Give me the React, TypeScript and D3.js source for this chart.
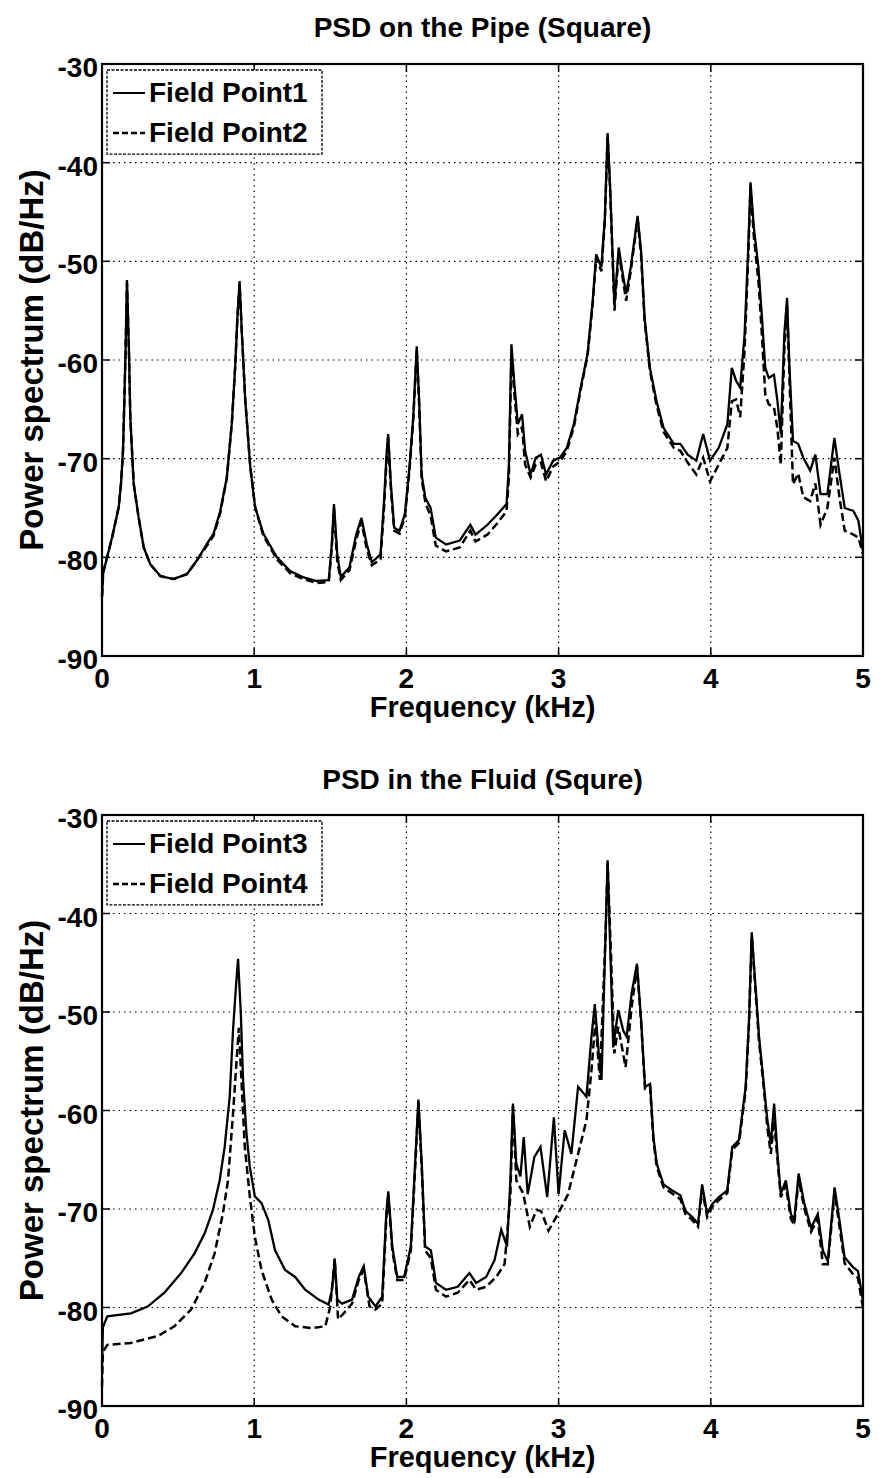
import * as d3 from "d3";

// ---- data: [frequency kHz, power dB/Hz] ----
const xTicks = [0, 1, 2, 3, 4, 5];
const yTicks = [-30, -40, -50, -60, -70, -80, -90];

const pipeTitle = "PSD on the Pipe (Square)";
const fluidTitle = "PSD in the Fluid (Squre)";
const pipeLabels = ["Field Point1", "Field Point2"];
const fluidLabels = ["Field Point3", "Field Point4"];

const fieldPoint1 = [
	[0, -84], [0.008, -81.5], [0.022, -80.7], [0.066, -78], [0.11, -74.9], [0.125, -72.5], [0.138, -69.2], [0.147, -64],
	[0.155, -59], [0.164, -51.9], [0.177, -59], [0.186, -65.8], [0.208, -72.5], [0.24, -75.9], [0.274, -79], [0.317, -80.7],
	[0.383, -81.9], [0.47, -82.2], [0.558, -81.7], [0.624, -80.3], [0.69, -78.6], [0.733, -77.6], [0.777, -75.3], [0.82, -71.9],
	[0.853, -66.4], [0.875, -60.7], [0.89, -55.6], [0.904, -52], [0.919, -57.3], [0.941, -64], [0.974, -70.8], [1.006, -74.9],
	[1.06, -77.6], [1.149, -80], [1.236, -81.4], [1.32, -82], [1.41, -82.4], [1.49, -82.3], [1.51, -78.6], [1.524, -74.6],
	[1.546, -79.7], [1.569, -82], [1.626, -81], [1.67, -77.7], [1.705, -76], [1.74, -78.7], [1.773, -80.5], [1.83, -79.7],
	[1.853, -74.3], [1.871, -69.2], [1.88, -67.5], [1.898, -72.6], [1.92, -77], [1.955, -77.3], [1.99, -75.6], [2.02, -70.9],
	[2.045, -65.8], [2.068, -58.6], [2.084, -64.2], [2.1, -71.6], [2.125, -74], [2.159, -75], [2.193, -78], [2.26, -78.7],
	[2.35, -78.3], [2.42, -76.7], [2.454, -77.7], [2.533, -76.7], [2.6, -75.6], [2.658, -74.6], [2.673, -70.9], [2.69, -58.4],
	[2.71, -62.5], [2.732, -66.5], [2.76, -65.5], [2.78, -69.2], [2.816, -71.6], [2.85, -69.9], [2.884, -69.6], [2.918, -71.6],
	[2.964, -70.2], [3.009, -69.9], [3.054, -68.9], [3.1, -66.5], [3.145, -62.8], [3.19, -59.4], [3.224, -54], [3.247, -49.3],
	[3.281, -50.6], [3.304, -45.6], [3.322, -37], [3.338, -42.2], [3.354, -49], [3.367, -54.4], [3.395, -48.6], [3.422, -51.3],
	[3.444, -53.3], [3.474, -50.6], [3.519, -45.4], [3.542, -49], [3.565, -55.7], [3.6, -60.8], [3.644, -64.2], [3.69, -66.9],
	[3.757, -68.5], [3.8, -68.5], [3.848, -69.6], [3.905, -70.2], [3.95, -67.5], [3.995, -70.2], [4.052, -68.9], [4.109, -66.5],
	[4.138, -60.8], [4.166, -62.1], [4.193, -62.8], [4.222, -57.4], [4.245, -49], [4.261, -42], [4.283, -46.6], [4.313, -50.6],
	[4.336, -55.7], [4.358, -60.8], [4.381, -61.8], [4.415, -61.5], [4.438, -64.2], [4.46, -67.5], [4.483, -57.4], [4.501, -53.7],
	[4.517, -60.8], [4.54, -68.2], [4.574, -68.5], [4.608, -69.9], [4.653, -71.2], [4.687, -69.6], [4.721, -73.6], [4.766, -73.6],
	[4.812, -67.9], [4.846, -71.6], [4.88, -75], [4.937, -75.3], [4.97, -76.3], [5, -79.4],
];

const fieldPoint2 = [
	[0, -84], [0.008, -81.5], [0.022, -80.7], [0.066, -78], [0.11, -74.9], [0.125, -72.5], [0.138, -69.2], [0.147, -64],
	[0.155, -59], [0.164, -52.2], [0.177, -59], [0.186, -65.8], [0.208, -72.5], [0.24, -75.9], [0.274, -79], [0.317, -80.7],
	[0.383, -81.9], [0.47, -82.2], [0.558, -81.7], [0.624, -80.3], [0.69, -78.8], [0.733, -77.8], [0.777, -75.5], [0.82, -72],
	[0.853, -66.4], [0.875, -60.7], [0.89, -55.6], [0.904, -52.3], [0.919, -57.3], [0.941, -64], [0.974, -70.8], [1.006, -74.9],
	[1.06, -77.8], [1.149, -80.2], [1.236, -81.6], [1.32, -82.2], [1.41, -82.6], [1.49, -82.5], [1.51, -79], [1.524, -75],
	[1.546, -80.5], [1.569, -82.3], [1.626, -81.3], [1.67, -78.2], [1.705, -76.4], [1.74, -79.2], [1.773, -80.8], [1.83, -80.2],
	[1.853, -75], [1.871, -69.8], [1.88, -67.8], [1.898, -73], [1.92, -77.3], [1.955, -77.6], [1.99, -75.9], [2.02, -71.2],
	[2.045, -66], [2.068, -59], [2.084, -64.6], [2.1, -72], [2.125, -74.5], [2.159, -75.8], [2.193, -78.8], [2.26, -79.4],
	[2.35, -79], [2.42, -77.3], [2.454, -78.4], [2.533, -77.7], [2.6, -76.5], [2.658, -75.3], [2.673, -72], [2.69, -59.5],
	[2.71, -63.5], [2.732, -67.5], [2.76, -66.8], [2.78, -70.6], [2.816, -71.9], [2.85, -70.6], [2.884, -70.4], [2.918, -72.3],
	[2.964, -70.8], [3.009, -70.3], [3.054, -69.2], [3.1, -66.8], [3.145, -63], [3.19, -59.6], [3.224, -54.3], [3.247, -49.6],
	[3.281, -51], [3.304, -45.8], [3.322, -37.4], [3.338, -42.6], [3.354, -49.4], [3.367, -55], [3.395, -49], [3.422, -51.8],
	[3.444, -54], [3.474, -51], [3.519, -45.7], [3.542, -49.4], [3.565, -56], [3.6, -61.1], [3.644, -64.6], [3.69, -67.3],
	[3.757, -68.9], [3.8, -69.2], [3.848, -70.4], [3.905, -71.6], [3.95, -69.9], [3.995, -72.3], [4.052, -70.6], [4.109, -68.9],
	[4.138, -64.2], [4.166, -64], [4.193, -65.8], [4.222, -59], [4.245, -50], [4.261, -42.5], [4.283, -47.5], [4.313, -52],
	[4.336, -57.5], [4.358, -63.5], [4.381, -64.5], [4.415, -64.8], [4.438, -67], [4.46, -70.6], [4.483, -59], [4.501, -54.5],
	[4.517, -62], [4.54, -72.6], [4.574, -71.5], [4.608, -73.9], [4.653, -74.3], [4.687, -72.5], [4.721, -76.7], [4.766, -75],
	[4.812, -69.9], [4.846, -74], [4.88, -77.3], [4.937, -77.7], [4.97, -78], [5, -79.7],
];

const fieldPoint3 = [
	[0, -86], [0.006, -82], [0.035, -80.9], [0.19, -80.6], [0.3, -79.9], [0.41, -78.5], [0.52, -76.5], [0.608, -74.5],
	[0.674, -72.5], [0.729, -70.1], [0.773, -67.1], [0.806, -63.7], [0.839, -58.6], [0.861, -51.8], [0.883, -46.8], [0.894, -44.6],
	[0.912, -50.1], [0.927, -56.9], [0.949, -62.3], [0.971, -65.7], [1.004, -68.7], [1.048, -69.4], [1.092, -71.1], [1.137, -74.2],
	[1.203, -76.2], [1.269, -76.9], [1.335, -78.2], [1.423, -79.2], [1.489, -79.7], [1.511, -78.2], [1.529, -75.2], [1.546, -79.2],
	[1.577, -79.6], [1.643, -79.2], [1.687, -76.9], [1.72, -75.8], [1.749, -78.9], [1.797, -79.9], [1.841, -78.9], [1.868, -70.4],
	[1.881, -68.2], [1.907, -73.8], [1.94, -76.9], [1.985, -76.9], [2.029, -73.8], [2.057, -65.4], [2.079, -58.9], [2.101, -65.4],
	[2.123, -73.8], [2.161, -74.2], [2.194, -77.5], [2.26, -78.2], [2.337, -77.9], [2.414, -76.5], [2.458, -77.5], [2.524, -76.9],
	[2.579, -75.2], [2.623, -72.1], [2.661, -73.8], [2.683, -67.1], [2.7, -59.3], [2.722, -65.4], [2.749, -66.7], [2.771, -62.7],
	[2.797, -68.5], [2.841, -64.7], [2.881, -63.7], [2.925, -68.8], [2.969, -60.7], [3, -68.5], [3.04, -62], [3.084, -64.4],
	[3.128, -57.6], [3.183, -58.6], [3.216, -52.5], [3.238, -49.2], [3.264, -54.2], [3.282, -56.9], [3.308, -42.4], [3.322, -34.6],
	[3.337, -42.4], [3.359, -53.6], [3.392, -49.8], [3.425, -51.9], [3.447, -52.5], [3.48, -48.1], [3.515, -45.1], [3.542, -50.8],
	[3.568, -57.6], [3.601, -57.3], [3.623, -62.7], [3.645, -65.4], [3.689, -67.5], [3.744, -68.1], [3.8, -68.6], [3.833, -70.2],
	[3.877, -70.8], [3.916, -71.5], [3.943, -67.5], [3.976, -70.5], [4.009, -69.5], [4.053, -68.8], [4.108, -68.1], [4.141, -63.7],
	[4.185, -63], [4.229, -57.6], [4.251, -50.8], [4.269, -41.9], [4.291, -46.8], [4.317, -52.5], [4.35, -57.6], [4.372, -61],
	[4.394, -63.4], [4.416, -59.3], [4.438, -64.4], [4.46, -68.5], [4.493, -67.1], [4.526, -70.5], [4.548, -71.2], [4.577, -66.4],
	[4.615, -69.5], [4.659, -71.9], [4.703, -70.5], [4.736, -74.2], [4.769, -75.3], [4.813, -67.8], [4.846, -71.2], [4.879, -74.9],
	[4.934, -75.9], [4.967, -76.3], [5, -79.3],
];

const fieldPoint4 = [
	[0, -88], [0.006, -84.5], [0.035, -83.8], [0.19, -83.6], [0.366, -82.9], [0.476, -81.9], [0.586, -80.2], [0.674, -77.5],
	[0.74, -74.5], [0.795, -70.4], [0.828, -67.1], [0.861, -60.3], [0.883, -55.2], [0.899, -51.6], [0.916, -56.9], [0.938, -63.7],
	[0.971, -68.7], [1.004, -72.8], [1.048, -76.2], [1.115, -79.2], [1.18, -80.9], [1.269, -81.9], [1.379, -82.1], [1.467, -81.9],
	[1.5, -79.9], [1.529, -75], [1.551, -81.2], [1.588, -80.6], [1.643, -79.6], [1.687, -77.2], [1.72, -76.2], [1.758, -79.9],
	[1.797, -80.2], [1.841, -79.6], [1.868, -71], [1.881, -68.5], [1.907, -74.2], [1.94, -77.2], [1.985, -77.2], [2.029, -74.2],
	[2.057, -66], [2.079, -59.2], [2.101, -66], [2.123, -74.2], [2.161, -75], [2.194, -78.2], [2.26, -78.9], [2.337, -78.5],
	[2.414, -77.2], [2.458, -78.2], [2.524, -77.9], [2.59, -76.9], [2.645, -75.6], [2.683, -68.7], [2.7, -59.6], [2.722, -67.1],
	[2.767, -68.4], [2.811, -71.8], [2.855, -70.1], [2.885, -70.2], [2.934, -72.2], [2.996, -70.5], [3.062, -68.5], [3.128, -64.4],
	[3.183, -61], [3.216, -55.9], [3.242, -50.8], [3.271, -56.9], [3.308, -42.4], [3.322, -34.9], [3.344, -44.1], [3.366, -54.2],
	[3.392, -51.5], [3.44, -55.6], [3.48, -49.5], [3.515, -45.4], [3.542, -51], [3.568, -57.8], [3.601, -57.6], [3.623, -63],
	[3.645, -65.7], [3.689, -67.8], [3.744, -68.4], [3.8, -69], [3.833, -70.5], [3.877, -71.1], [3.916, -71.8], [3.943, -68],
	[3.976, -70.8], [4.009, -69.8], [4.053, -69.1], [4.108, -68.4], [4.141, -64], [4.185, -63.3], [4.229, -58], [4.251, -51.2],
	[4.269, -42.3], [4.291, -47.2], [4.317, -53], [4.35, -58], [4.372, -61.8], [4.394, -64.4], [4.416, -61], [4.438, -65],
	[4.46, -68.8], [4.493, -67.6], [4.526, -71], [4.548, -71.6], [4.577, -67], [4.615, -70], [4.659, -72.3], [4.703, -71],
	[4.736, -75.6], [4.769, -75.6], [4.813, -68.3], [4.846, -71.8], [4.879, -75.5], [4.934, -76.6], [4.967, -77], [5, -80],
];

const FONT = "'Liberation Sans', Arial, Helvetica, sans-serif";

function Panel({ top, height, titleY, title, labels, solid, dashed }) {
	const left = 102,
		right = 863;
	const x = d3.scaleLinear().domain([0, 5]).range([left, right]);
	const y = d3.scaleLinear().domain([-90, -30]).range([top + height, top]);
	const line = d3
		.line()
		.x((d) => x(d[0]))
		.y((d) => y(d[1]));
	const bottom = top + height;
	const tick = 8;

	return (
		<g fontFamily={FONT} fontWeight="bold" fill="#000">
			<text x={(left + right) / 2} y={titleY} textAnchor="middle" fontSize="28">
				{title}
			</text>

			{/* grid */}
			{xTicks.slice(1, -1).map((t) => (
				<line key={"gx" + t} x1={x(t)} x2={x(t)} y1={top} y2={bottom} stroke="#000" strokeWidth="1.2" strokeDasharray="1.5,4" />
			))}
			{yTicks.slice(1, -1).map((t) => (
				<line key={"gy" + t} x1={left} x2={right} y1={y(t)} y2={y(t)} stroke="#000" strokeWidth="1.2" strokeDasharray="1.5,4" />
			))}

			{/* ticks */}
			{xTicks.map((t) => (
				<g key={"tx" + t}>
					<line x1={x(t)} x2={x(t)} y1={bottom} y2={bottom - tick} stroke="#000" strokeWidth="1.5" />
					<line x1={x(t)} x2={x(t)} y1={top} y2={top + tick} stroke="#000" strokeWidth="1.5" />
					<text x={x(t)} y={bottom + 32} textAnchor="middle" fontSize="28">
						{t}
					</text>
				</g>
			))}
			{yTicks.map((t) => (
				<g key={"ty" + t}>
					<line x1={left} x2={left + tick} y1={y(t)} y2={y(t)} stroke="#000" strokeWidth="1.5" />
					<line x1={right} x2={right - tick} y1={y(t)} y2={y(t)} stroke="#000" strokeWidth="1.5" />
					<text x={left - 4} y={y(t) + 13} textAnchor="end" fontSize="28">
						{t}
					</text>
				</g>
			))}

			{/* series */}
			<path d={line(dashed)} fill="none" stroke="#000" strokeWidth="2.5" strokeDasharray="8,4" />
			<path d={line(solid)} fill="none" stroke="#000" strokeWidth="2.3" />

			{/* axes box */}
			<rect x={left} y={top} width={right - left} height={height} fill="none" stroke="#000" strokeWidth="2.2" />

			{/* legend */}
			<rect x={107} y={top + 6} width={215} height={height * 0.142} fill="#fff" stroke="#000" strokeWidth="1.3" strokeDasharray="3,1.5" />
			<line x1={113} x2={145} y1={top + 29} y2={top + 29} stroke="#000" strokeWidth="2" />
			<text x={149} y={top + 38} fontSize="28">
				{labels[0]}
			</text>
			<line x1={113} x2={145} y1={top + 69} y2={top + 69} stroke="#000" strokeWidth="2.4" strokeDasharray="6,3" />
			<text x={149} y={top + 78} fontSize="28">
				{labels[1]}
			</text>

			{/* axis labels */}
			<text x={(left + right) / 2} y={bottom + 61} textAnchor="middle" fontSize="29">
				Frequency (kHz)
			</text>
			<text transform={`translate(43, ${(top + bottom) / 2}) rotate(-90)`} textAnchor="middle" fontSize="33">
				Power spectrum (dB/Hz)
			</text>
		</g>
	);
}

export default function App() {
	return (
		<svg width={884} height={1478} style={{ position: "absolute", left: 0, top: 0, background: "#fff" }}>
			<rect width={884} height={1478} fill="#fff" />
			<Panel top={64} height={592} titleY={37} title={pipeTitle} labels={pipeLabels} solid={fieldPoint1} dashed={fieldPoint2} />
			<Panel top={815} height={591} titleY={789} title={fluidTitle} labels={fluidLabels} solid={fieldPoint3} dashed={fieldPoint4} />
		</svg>
	);
}
